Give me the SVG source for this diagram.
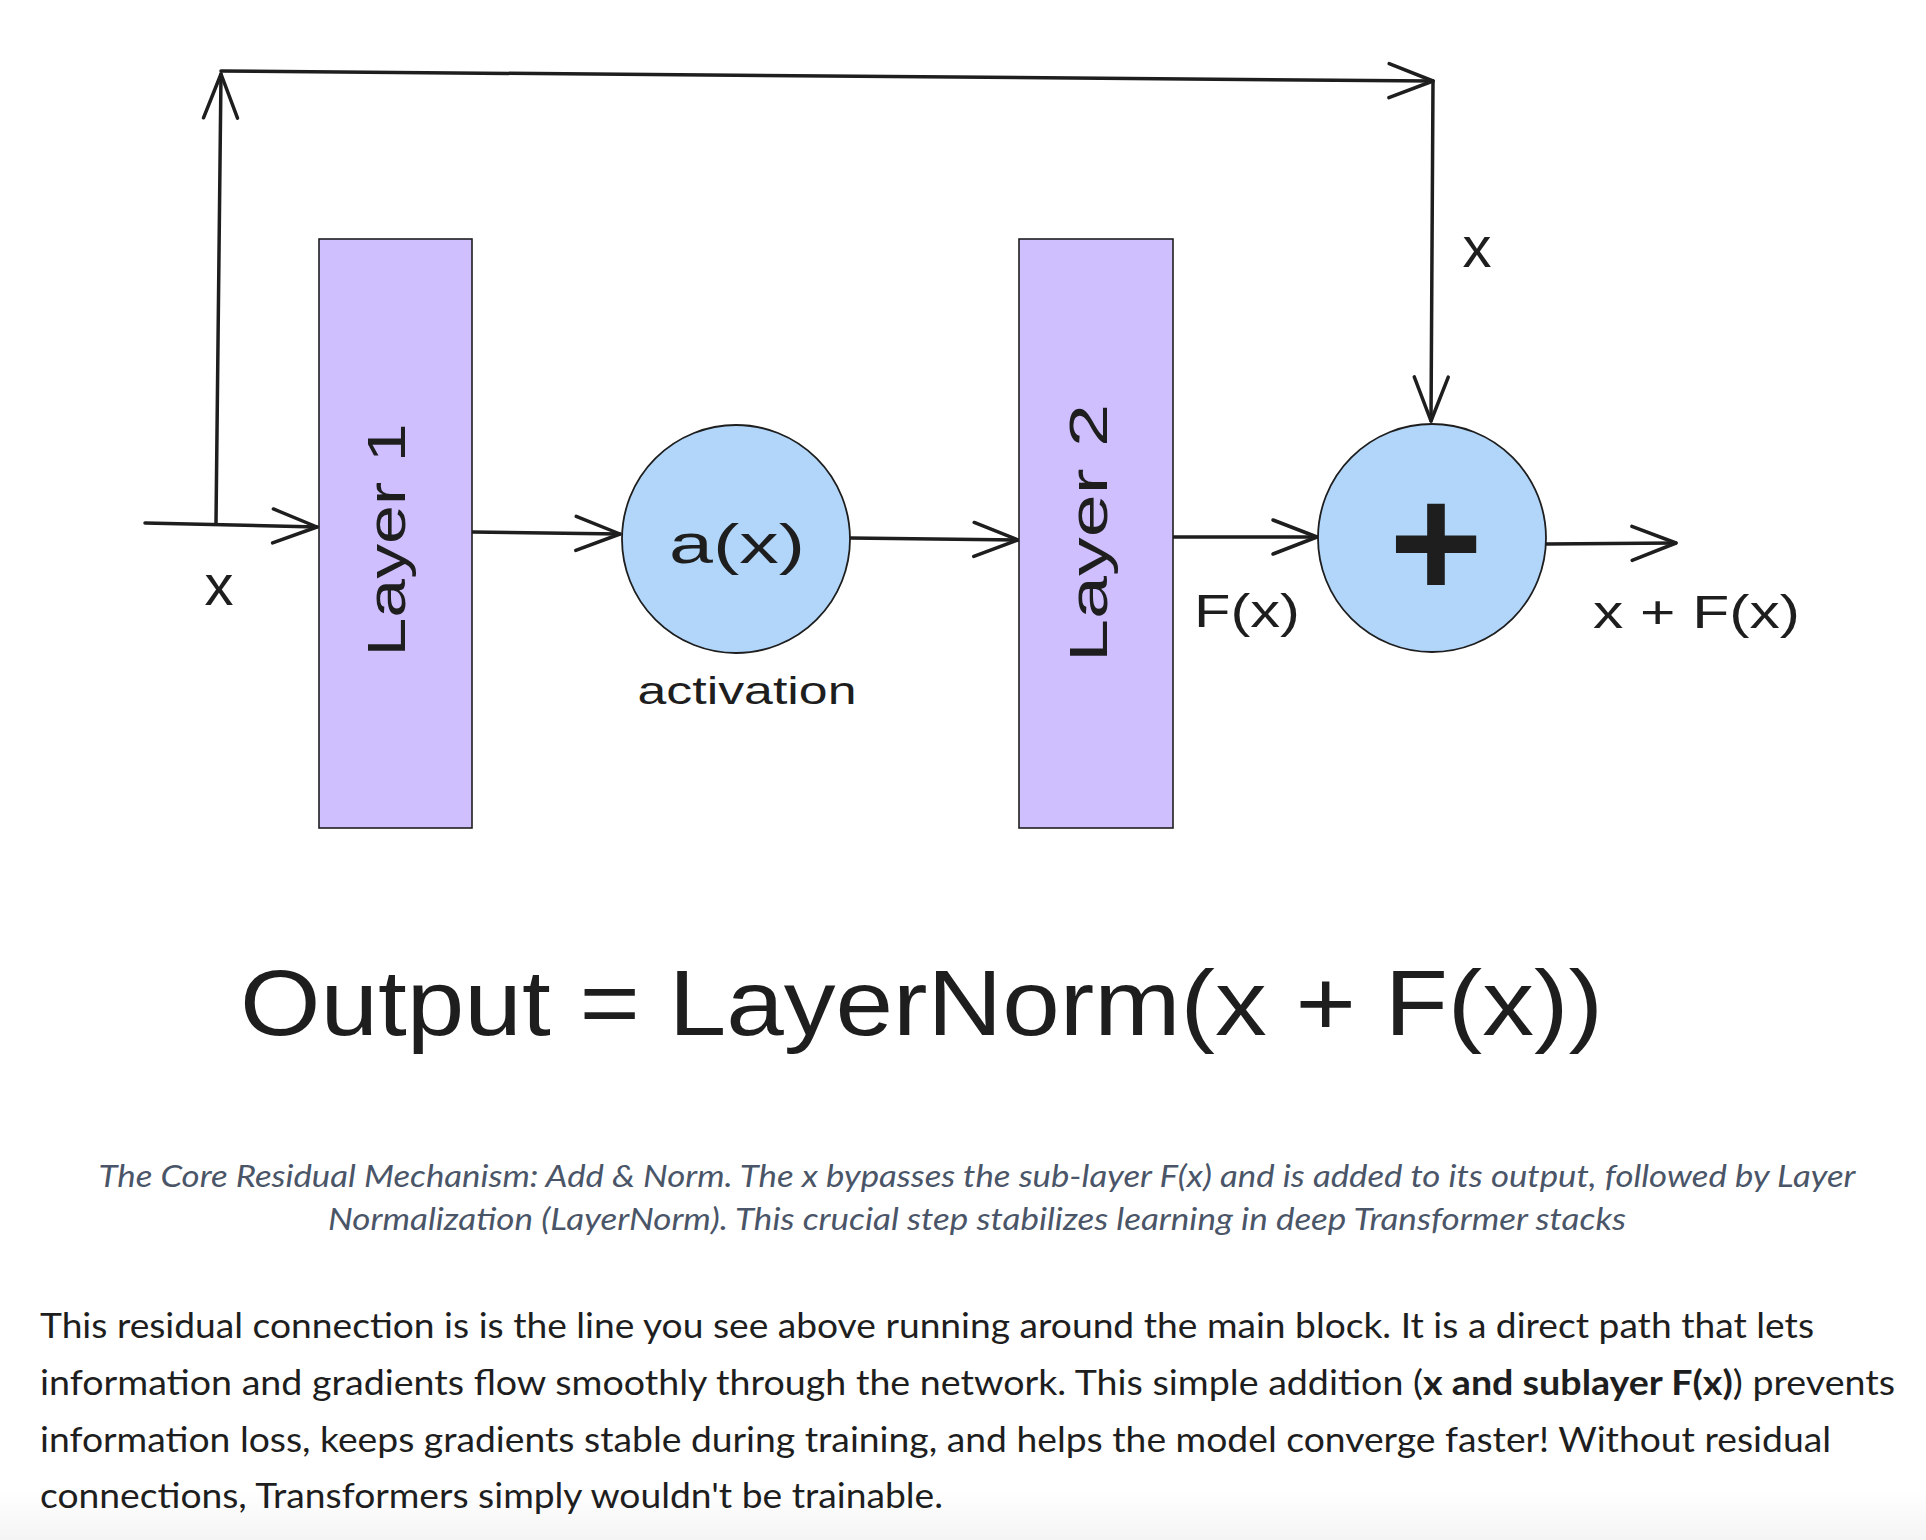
<svg xmlns="http://www.w3.org/2000/svg" width="1926" height="1540" viewBox="0 0 1926 1540">
  <defs>
    <marker id="arrow" markerUnits="userSpaceOnUse" markerWidth="60" markerHeight="50" refX="46" refY="20" orient="auto" overflow="visible">
      <path d="M2,3 L46,20 L2,37" fill="none" stroke="#1e1e1e" stroke-width="3.5" stroke-linecap="round" stroke-linejoin="round"/>
    </marker>
    <linearGradient id="fade" x1="0" y1="0" x2="0" y2="1">
      <stop offset="0" stop-color="#ffffff"/>
      <stop offset="1" stop-color="#f4f4f4"/>
    </linearGradient>
    <style>
      .layer { fill: #d0bfff; stroke: #1e1e1e; stroke-width: 1.6; }
      .op { fill: #b1d6fa; stroke: #1e1e1e; stroke-width: 1.8; }
      .conn { fill: none; stroke: #1e1e1e; stroke-width: 3.5; stroke-linecap: round; marker-end: url(#arrow); }
      .hand { font-family: "Liberation Sans", "DejaVu Sans", sans-serif; fill: #1e1e1e; }
      .cap { font-family: Lato, "Liberation Sans", sans-serif; font-style: italic; font-size: 31px; fill: #4a5568; }
      .body { font-family: Lato, "Liberation Sans", sans-serif; font-size: 34px; fill: #1e1e1e; }
    </style>
  </defs>
  <rect x="0" y="0" width="1926" height="1540" fill="#ffffff"/>
  <rect x="0" y="1490" width="1926" height="50" fill="url(#fade)"/>

  <g id="connectors">
    <path class="conn" d="M145,523 L317,527"/>
    <path class="conn" d="M216,523 L221,74"/>
    <path class="conn" d="M221,71 L1433,81"/>
    <path class="conn" d="M1433,81 L1431,421"/>
    <path class="conn" d="M472,532 L620,534"/>
    <path class="conn" d="M850,538 L1018,540"/>
    <path class="conn" d="M1173,537 L1317,537"/>
    <path class="conn" d="M1546,544 L1676,543"/>
  </g>

  <g id="layer1">
    <rect class="layer" x="319" y="239" width="153" height="589"/>
    <text class="hand" transform="translate(405,540) rotate(-90)" text-anchor="middle" font-size="54" textLength="233" lengthAdjust="spacingAndGlyphs">Layer 1</text>
  </g>

  <g id="activation">
    <circle class="op" cx="736" cy="539" r="114"/>
    <text class="hand" x="737" y="563" text-anchor="middle" font-size="56" textLength="136" lengthAdjust="spacingAndGlyphs">a(x)</text>
    <text class="hand" x="747" y="704" text-anchor="middle" font-size="38" textLength="219" lengthAdjust="spacingAndGlyphs">activation</text>
  </g>

  <g id="layer2">
    <rect class="layer" x="1019" y="239" width="154" height="589"/>
    <text class="hand" transform="translate(1107,533) rotate(-90)" text-anchor="middle" font-size="54" textLength="258" lengthAdjust="spacingAndGlyphs">Layer 2</text>
  </g>

  <g id="add">
    <circle class="op" cx="1432" cy="538" r="114"/>
    <text class="hand" x="1436" y="598" text-anchor="middle" font-size="160" font-weight="bold">+</text>
  </g>

  <g id="labels">
    <text class="hand" x="219" y="605" text-anchor="middle" font-size="58">x</text>
    <text class="hand" x="1477" y="267" text-anchor="middle" font-size="58">x</text>
    <text class="hand" x="1194" y="627" font-size="46" textLength="106" lengthAdjust="spacingAndGlyphs">F(x)</text>
    <text class="hand" x="1593" y="628" font-size="46" textLength="207" lengthAdjust="spacingAndGlyphs">x + F(x)</text>
  </g>

  <g id="formula">
    <text class="hand" x="240" y="1035" font-size="92" textLength="1363" lengthAdjust="spacingAndGlyphs">Output = LayerNorm(x + F(x))</text>
  </g>

  <g id="caption">
    <text class="cap" x="977" y="1187" text-anchor="middle" textLength="1757" lengthAdjust="spacingAndGlyphs">The Core Residual Mechanism: Add &amp; Norm. The x bypasses the sub-layer F(x) and is added to its output, followed by Layer</text>
    <text class="cap" x="977" y="1230" text-anchor="middle" textLength="1298" lengthAdjust="spacingAndGlyphs">Normalization (LayerNorm). This crucial step stabilizes learning in deep Transformer stacks</text>
  </g>

  <g id="paragraph">
    <text class="body" x="40" y="1338" textLength="1774" lengthAdjust="spacingAndGlyphs">This residual connection is is the line you see above running around the main block. It is a direct path that lets</text>
    <text class="body" x="40" y="1395" textLength="1855" lengthAdjust="spacingAndGlyphs">information and gradients flow smoothly through the network. This simple addition (<tspan font-weight="bold">x and sublayer F(x)</tspan>) prevents</text>
    <text class="body" x="40" y="1452" textLength="1791" lengthAdjust="spacingAndGlyphs">information loss, keeps gradients stable during training, and helps the model converge faster! Without residual</text>
    <text class="body" x="40" y="1508" textLength="903" lengthAdjust="spacingAndGlyphs">connections, Transformers simply wouldn't be trainable.</text>
  </g>
</svg>
